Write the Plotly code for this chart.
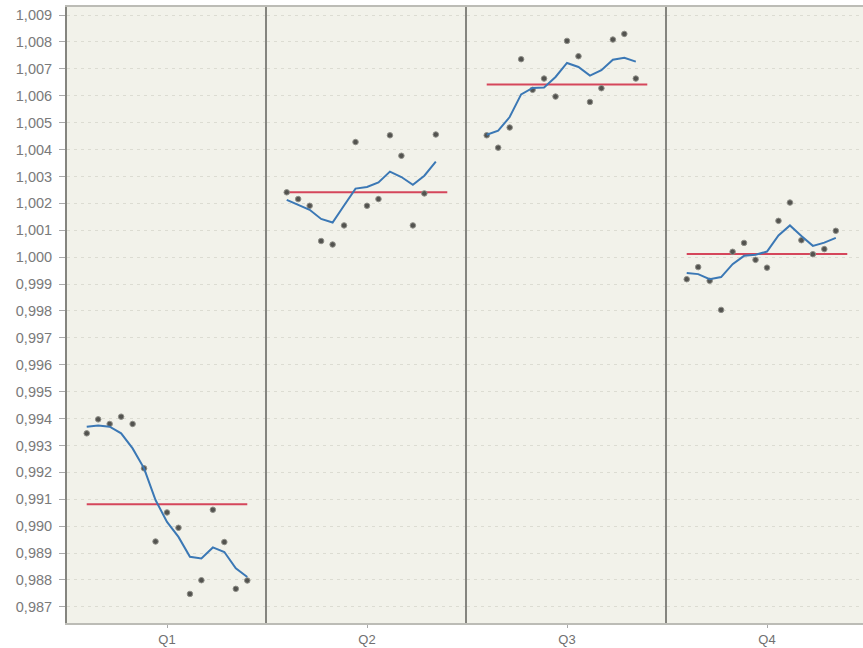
import plotly.graph_objects as go
from plotly.subplots import make_subplots

quarters = ["Q1", "Q2", "Q3", "Q4"]

q1_points = [0.99345, 0.99397, 0.99380, 0.99407, 0.99380, 0.99215, 0.98943, 0.99051,
             0.98994, 0.98748, 0.98799, 0.99061, 0.98941, 0.98767, 0.98798]
q2_points = [1.00241, 1.00216, 1.00191, 1.00060, 1.00047, 1.00118, 1.00428, 1.00191,
             1.00216, 1.00453, 1.00377, 1.00118, 1.00237, 1.00456]
q3_points = [1.00453, 1.00407, 1.00482, 1.00736, 1.00622, 1.00664, 1.00597, 1.00804,
             1.00747, 1.00577, 1.00628, 1.00809, 1.00830, 1.00664]
q4_points = [0.99918, 0.99963, 0.99912, 0.99804, 1.00020, 1.00053, 0.99990, 0.99961,
             1.00135, 1.00203, 1.00063, 1.00011, 1.00030, 1.00098]

q1_smooth = [0.99370, 0.99374, 0.99370, 0.99345, 0.99289, 0.99215, 0.99097, 0.99016,
             0.98960, 0.98886, 0.98880, 0.98921, 0.98904, 0.98843, 0.98811]
q2_smooth = [1.00213, 1.00195, 1.00176, 1.00142, 1.00129, 1.00192, 1.00255, 1.00261,
             1.00278, 1.00318, 1.00298, 1.00269, 1.00303, 1.00355]
q3_smooth = [1.00455, 1.00470, 1.00521, 1.00605, 1.00629, 1.00631, 1.00670, 1.00722,
             1.00707, 1.00675, 1.00695, 1.00734, 1.00741, 1.00727]
q4_smooth = [0.99941, 0.99937, 0.99918, 0.99926, 0.99974, 1.00005, 1.00009, 1.00021,
             1.00081, 1.00118, 1.00079, 1.00042, 1.00054, 1.00072]

quarter_means = [0.99081, 1.00241, 1.00642, 1.00012]
mean_span = [0, 14]  # period index range covered by each quarter mean line

y_ticks = [0.987 + 0.001 * i for i in range(23)]

points = [q1_points, q2_points, q3_points, q4_points]
smooth = [q1_smooth, q2_smooth, q3_smooth, q4_smooth]

fig = make_subplots(rows=1, cols=4, shared_yaxes=True, horizontal_spacing=0)

for i in range(4):
    col = i + 1
    xs = list(range(len(points[i])))
    fig.add_trace(go.Scatter(
        x=mean_span, y=[quarter_means[i]] * 2, mode="lines",
        line=dict(color="#d5465b", width=2), hoverinfo="skip"), row=1, col=col)
    fig.add_trace(go.Scatter(
        x=xs, y=points[i], mode="markers",
        marker=dict(color="#53534f", size=5.5, line=dict(color="#909089", width=1))),
        row=1, col=col)
    fig.add_trace(go.Scatter(
        x=list(range(len(smooth[i]))), y=smooth[i], mode="lines",
        line=dict(color="#3b78b5", width=2)), row=1, col=col)
    fig.update_xaxes(
        range=[-1.72, 15.72], tickvals=[7], ticktext=[quarters[i]],
        ticks="outside", ticklen=3, tickcolor="#aaaaaa",
        tickfont=dict(family="Liberation Sans, Arial", size=13, color="#707070"),
        showgrid=False, zeroline=False,
        showline=True, mirror=True, linecolor="#bcbcb6", linewidth=2,
        row=1, col=col)
    fig.update_yaxes(
        range=[0.9864, 1.0093], tickvals=y_ticks, tickformat=".3f",
        showgrid=True, gridcolor="#dcdcd2", griddash="3px,4px", gridwidth=1,
        zeroline=False, showline=True, mirror=False,
        linecolor="#85857f", linewidth=2,
        row=1, col=col)

fig.update_yaxes(ticks="outside", ticklen=6, tickcolor="#aaaaaa",
                 ticklabelstandoff=4,
                 tickfont=dict(family="Liberation Sans, Arial", size=14.5, color="#7a7a7a"),
                 row=1, col=1)

fig.update_layout(
    width=867, height=648,
    margin=dict(l=67, r=0, t=7, b=25),
    paper_bgcolor="white", plot_bgcolor="#f2f2ea",
    separators=",.",
    showlegend=False,
)

fig.write_html(
    "out.html",
    config={"displayModeBar": False},
    post_script="document.body.style.margin='0';document.body.style.overflow='hidden';",
)
